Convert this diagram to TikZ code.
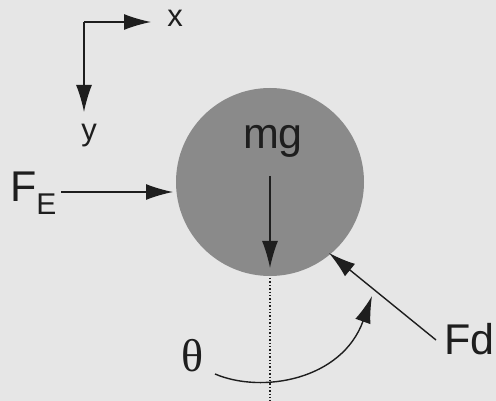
\documentclass[tikz,border=0pt]{standalone}
\usepackage{fontspec}
\setmainfont{Liberation Sans}
\newfontfamily\serifgr{Liberation Serif}
\usetikzlibrary{arrows.meta}
\definecolor{bg}{HTML}{E6E6E6}
\definecolor{ball}{HTML}{8A8A8A}
\definecolor{ink}{HTML}{1E1E1E}
\begin{document}
\begin{tikzpicture}[x=1pt,y=-1pt,
  vec/.style={draw=ink,line width=1.4pt,-{Latex[length=27pt,width=16pt]}},
  lbl/.style={text=ink,inner sep=0pt,font=\fontsize{43}{43}\selectfont},
  axl/.style={text=ink,inner sep=0pt,font=\fontsize{31}{31}\selectfont}]
\fill[bg] (0,0) rectangle (496,401);
\useasboundingbox (0,0) rectangle (496,401);
\node[circle,fill=ball,minimum size=188pt,inner sep=0pt] (ball) at (270,182) {};
% axes
\coordinate (o) at (84,22);
\coordinate (xt) at (151,22);
\coordinate (yt) at (84,112);
\draw[vec] (o) -- (xt);
\draw[vec] (o) -- (yt);
\node[axl,anchor=base] (xl) at (175,27) {x};
\node[axl,anchor=base] (yl) at (89,141) {y};
% F_E
\node[lbl,anchor=base west] (fe) at (10,202) {F\raisebox{-13pt}{\fontsize{30}{30}\selectfont E}};
\coordinate (fes) at (61,192);
\coordinate (fee) at (173,192);
\draw[vec] (fes) -- (fee);
% mg
\node[lbl,anchor=base] (mg) at (273,149) {mg};
\coordinate (mgs) at (270,176);
\coordinate (mge) at (270,268);
\draw[vec] (mgs) -- (mge);
% dotted vertical
\coordinate (ds) at (270,278);
\coordinate (de) at (270,401);
\draw[ink,line width=1.4pt,dotted] (ds) -- (de);
% Fd
\coordinate (fds) at (436,340);
\coordinate (fde) at (329,253);
\draw[vec] (fds) -- (fde);
\node[lbl,anchor=base west] (fd) at (444,354) {Fd};
% theta
\node[text=ink,inner sep=0pt,font=\serifgr\fontsize{46}{46}\selectfont] (th) at (193,356) {θ};
\coordinate (as) at (215,374);
\coordinate (ae) at (372,296);
\draw[vec] (as) .. controls (262,394) and (342,380) .. (ae);
\end{tikzpicture}
\end{document}
